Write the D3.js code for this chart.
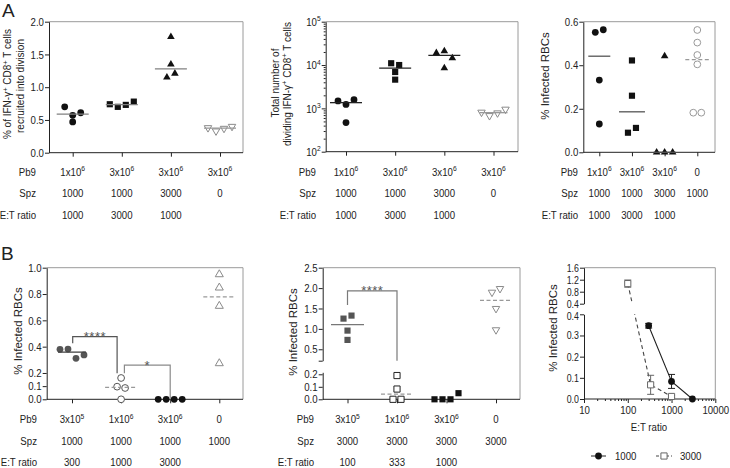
<!DOCTYPE html>
<html><head><meta charset="utf-8">
<script src="https://cdn.jsdelivr.net/npm/d3@7"></script>
<style>
body{margin:0;background:#fff;}
svg{display:block;background:#fff;}
text{font-family:"Liberation Sans",Arial,sans-serif;font-size:11.5px;fill:#222;}
text.title{font-size:11.5px;}
text.title.small{font-size:10px;}
text.letter{font-size:19px;}
text.star{font-size:13px;fill:#555;}
g.tight text{font-size:10.5px;}
</style></head><body>
<svg id="c" width="730" height="468"></svg>
<script>
// ---------------- DATA ----------------
const rowLabels = ["Pb9", "Spz", "E:T ratio"];
const pb9A12 = ["1x10^6", "3x10^6", "3x10^6", "3x10^6"];
const spzA12 = ["1000", "1000", "3000", "0"];
const etA12 = ["1000", "3000", "1000", ""];
const pb9A3 = ["1x10^6", "3x10^6", "3x10^6", "0"];
const spzA3 = ["1000", "1000", "3000", "1000"];
const etA3 = ["1000", "3000", "1000", ""];
const pb9B = ["3x10^5", "1x10^6", "3x10^6", "0"];
const spzB1 = ["1000", "1000", "1000", "1000"];
const etB1 = ["300", "1000", "3000", ""];
const spzB2 = ["3000", "3000", "3000", "3000"];
const etB2 = ["100", "333", "1000", ""];

// Panel A1: % of IFN-g+ CD8+ T cells recruited into division
const a1Circle = [0.70, 0.47, 0.57, 0.61];
const a1Square = [0.74, 0.70, 0.73, 0.78];
const a1Triangle = [1.15, 1.77, 1.35, 1.21];
const a1DownTri = [0.38, 0.33, 0.37, 0.40];
const a1Ticks = [0, 0.5, 1.0, 1.5, 2.0];

// Panel A2: total number of dividing IFN-g+ CD8+ T cells
const a2Circle = [1480, 1230, 1590, 470];
const a2Square = [11000, 10000, 6900, 4600];
const a2Triangle = [19000, 21000, 14500, 8500];
const a2DownTri = [811, 676, 781, 951];
const a2Ticks = [1e2, 1e3, 1e4, 1e5];

// Panel A3: % infected RBCs
const a3Circle = [0.551, 0.563, 0.332, 0.130];
const a3Square = [0.422, 0.260, 0.090, 0.112];
const a3Triangle = [0.442, 0, 0, 0];
const a3OpenCircle = [0.562, 0.504, 0.447, 0.404, 0.182, 0.182];
const a3Ticks = [0, 0.2, 0.4, 0.6];

// Panel B1: % infected RBCs (Spz 1000)
const b1Dark = [0.380, 0.382, 0.311, 0.337];
const b1Open = [0.162, 0.096, 0.086, 0];
const b1Black = [0, 0, 0, 0];
const b1Triangle = [0.949, 0.848, 0.709, 0.273];
const b1Ticks = [0, 0.1, 0.2, 0.4, 0.6, 0.8, 1.0];
const b1Brackets = [{from: 0, to: 1, left: 0.425, top: 0.476, right: 0.198, label: "****"},
                    {from: 1, to: 2, left: 0.198, top: 0.26, right: 0, label: "*"}];

// Panel B2: % infected RBCs (Spz 3000), broken axis
const b2Dark = [1.252, 1.326, 0.958, 0.730];
const b2Open = [0.190, 0.082, 0, 0];
const b2Black = [0, 0, 0, 0.049];
const b2DownTri = [1.896, 1.986, 1.497, 0.975];
const b2LowTicks = [0, 0.1, 0.2];
const b2HighTicks = [0.5, 1.0, 1.5, 2.0, 2.5];
const b2Brackets = [{from: 0, to: 1, left: 1.585, top: 1.93, right: 0.22, label: "****"}];

// Panel B3: % infected RBCs vs E:T ratio
const b3Ratio1000 = [300, 1000, 3000];
const b3Mean1000 = [0.346, 0.083, 0];
const b3Err1000 = [0.011, 0.033, 0];
const b3Ratio3000 = [100, 333, 1000];
const b3Mean3000 = [1.07, 0.067, 0.012];
const b3Err3000 = [0.12, 0.045, 0.005];
const b3LowTicks = [0, 0.1, 0.2, 0.3, 0.4];
const b3HighTicks = [0.4, 0.8, 1.2, 1.6];
const b3XTicks = [10, 100, 1000, 10000];
const b3Legend = ["1000", "3000"];

// ---------------- HELPERS ----------------
const svg = d3.select("#c");
const AX = "#222", FRAME = "#9a9a9a", SX = 0.84;

function nt(x, y, anchor) {
  return svg.append("text").attr("transform", `translate(${x},${y}) scale(${SX},1)`)
    .attr("text-anchor", anchor || "start");
}
function supText(sel, str) {
  const m = str.split("^");
  sel.text(null);
  sel.append("tspan").text(m[0]);
  if (m.length > 1) sel.append("tspan").attr("dy", -4.5).attr("font-size", "8px").text(m[1]);
}
function richTitle(x, y, parts, small) {
  const t = svg.append("text").attr("class", "title" + (small ? " small" : "")).attr("text-anchor", "middle")
    .attr("transform", `translate(${x},${y}) rotate(-90)`);
  let shifted = false;
  parts.forEach(([s, sup]) => {
    const ts = t.append("tspan").text(s);
    if (sup && !shifted) { ts.attr("dy", -3.5).attr("font-size", "7.5px"); shifted = true; }
    else if (!sup && shifted) { ts.attr("dy", 3.5); shifted = false; }
  });
}
function frame(p) {
  svg.append("line").attr("x1", p.l).attr("x2", p.r).attr("y1", p.t).attr("y2", p.t).attr("stroke", FRAME);
  svg.append("line").attr("x1", p.r).attr("x2", p.r).attr("y1", p.t).attr("y2", p.b).attr("stroke", FRAME);
  svg.append("line").attr("x1", p.l).attr("x2", p.r).attr("y1", p.b).attr("y2", p.b).attr("stroke", AX);
}
function squeeze(g, dy) {
  g.attr("font-family", null).attr("font-size", null);
  g.selectAll(".tick text").attr("transform", `translate(0,${dy || 0}) scale(${SX},1)`);
  return g;
}
function yAxis(p, scale, ticks, fmt, dy) {
  const g = svg.append("g").attr("transform", `translate(${p.l},0)`).style("color", AX)
    .call(d3.axisLeft(scale).tickValues(ticks).tickSize(4).tickSizeOuter(0).tickPadding(2).tickFormat(fmt));
  return squeeze(g, dy);
}
function xCatAxis(p, xs) {
  const g = svg.append("g").attr("transform", `translate(0,${p.b})`).style("color", AX)
    .call(d3.axisBottom(xs).tickSize(4).tickSizeOuter(0).tickFormat(""));
  g.select(".domain").remove();
}
function table(rows, labelRight, xs, baseY) {
  rows.forEach((row, ri) => {
    const y = baseY + ri * 21.5;
    nt(labelRight, y, "end").text(rowLabels[ri]);
    row.forEach((t, ci) => {
      if (!t) return;
      supText(nt(xs(ci), y, "middle"), t);
    });
  });
}
const SYM = {
  circle: d3.symbol(d3.symbolCircle, 36)(),
  square: d3.symbol(d3.symbolSquare, 38)(),
  triangle: d3.symbol(d3.symbolTriangle, 25)(),
  down: d3.symbol(d3.symbolTriangle, 24)(),
  opentri: d3.symbol(d3.symbolTriangle, 28)()
};
function dodge(values, yf, thr, step) {
  const pts = values.map((v, i) => ({v, i, py: yf(v)}));
  const sorted = pts.slice().sort((a, b) => a.py - b.py);
  const clusters = [];
  sorted.forEach(p => {
    const c = clusters[clusters.length - 1];
    if (c && p.py - c[c.length - 1].py < thr) c.push(p); else clusters.push([p]);
  });
  clusters.forEach(c => {
    c.sort((a, b) => a.i - b.i);
    c.forEach((p, k) => p.dx = (k - (c.length - 1) / 2) * step);
  });
  return pts;
}
function groupMarks(xs, yf, ci, values, st) {
  const pts = dodge(values, yf, 6.2, 8);
  svg.append("g").selectAll("path").data(pts).join("path")
    .attr("d", SYM[st.shape])
    .attr("transform", d => `translate(${xs(ci) + d.dx},${yf(d.v)})` + (st.shape === "down" ? " rotate(180)" : ""))
    .attr("fill", st.fill).attr("stroke", st.stroke || "none").attr("stroke-width", 1);
  if (st.med) {
    const m = d3.median(values);
    svg.append("line").attr("x1", xs(ci) - st.med.half).attr("x2", xs(ci) + st.med.half)
      .attr("y1", yf(m)).attr("y2", yf(m)).attr("stroke", st.med.color).attr("stroke-width", 1.3)
      .attr("stroke-dasharray", st.med.dash ? "4,2.5" : null);
  }
}
function bracket(xs, yf, b, color, dxL, dxR) {
  const x1 = xs(b.from) + dxL, x2 = xs(b.to) + dxR, yt = yf(b.top);
  svg.append("path").attr("d", `M${x1},${yf(b.left)}V${yt}H${x2}V${yf(b.right)}`)
    .attr("fill", "none").attr("stroke", color).attr("stroke-width", 1.2);
  svg.append("text").attr("class", "star").attr("x", (x1 + x2) / 2).attr("y", yt + 4.5)
    .attr("text-anchor", "middle").attr("letter-spacing", 0.5).text(b.label);
}

// ---------------- PANEL LETTERS ----------------
svg.append("text").attr("class", "letter").attr("x", 2).attr("y", 17).text("A");
svg.append("text").attr("class", "letter").attr("x", 1).attr("y", 260).text("B");

// ---------------- A1 ----------------
{
  const p = {l: 49, r: 243, t: 21.7, b: 152.7};
  const xs = d3.scalePoint(d3.range(4), [72.7, 220]);
  const y = d3.scaleLinear([0, 2], [p.b, p.t]);
  frame(p); yAxis(p, y, a1Ticks, d3.format(".1f")); xCatAxis(p, xs);
  const med = {color: "#808080", half: 16};
  groupMarks(xs, y, 0, a1Circle, {shape: "circle", fill: "#111", med});
  groupMarks(xs, y, 1, a1Square, {shape: "square", fill: "#111", med});
  groupMarks(xs, y, 2, a1Triangle, {shape: "triangle", fill: "#111", med});
  groupMarks(xs, y, 3, a1DownTri, {shape: "down", fill: "#fff", stroke: "#8a8a8a", med: {color: "#999", half: 16}});
  richTitle(11, 84, [["% of IFN-γ", 0], ["+", 1], [" CD8", 0], ["+", 1], [" T cells", 0]], true);
  richTitle(23.5, 86, [["recruited into division", 0]], true);
  table([pb9A12, spzA12, etA12], 36, xs, 175.5);
}

// ---------------- A2 ----------------
{
  const p = {l: 325.7, r: 518, t: 21.7, b: 151.7};
  const xs = d3.scalePoint(d3.range(4), [346, 493.5]);
  const y = d3.scaleLog([1e2, 1e5], [p.b, p.t]);
  frame(p);
  const g = yAxis(p, y, a2Ticks, d => String(d));
  g.selectAll(".tick text").each(function(d) {
    const t = d3.select(this); t.text(null);
    t.append("tspan").text("10");
    t.append("tspan").attr("dy", -4.5).attr("font-size", "8px").text(Math.round(Math.log10(d)));
  });
  const minors = [];
  [100, 1000, 10000].forEach(dec => { for (let k = 2; k <= 9; k++) minors.push(dec * k); });
  svg.append("g").attr("transform", `translate(${p.l},0)`).style("color", AX)
    .call(d3.axisLeft(y).tickValues(minors).tickSize(2).tickFormat("").tickSizeOuter(0))
    .select(".domain").remove();
  xCatAxis(p, xs);
  const med = {color: "#222", half: 16};
  groupMarks(xs, y, 0, a2Circle, {shape: "circle", fill: "#111", med});
  groupMarks(xs, y, 1, a2Square, {shape: "square", fill: "#111", med});
  groupMarks(xs, y, 2, a2Triangle, {shape: "triangle", fill: "#111", med});
  groupMarks(xs, y, 3, a2DownTri, {shape: "down", fill: "#fff", stroke: "#8a8a8a", med: {color: "#999", half: 14}});
  richTitle(278.5, 83, [["Total number of", 0]], true);
  richTitle(290.5, 84, [["dividing IFN-γ", 0], ["+", 1], [" CD8", 0], ["+", 1], [" T cells", 0]], true);
  table([pb9A12, spzA12, etA12], 316, xs, 175.5);
}

// ---------------- A3 ----------------
{
  const p = {l: 583.3, r: 715, t: 21.7, b: 152.3};
  const xs = d3.scalePoint(d3.range(4), [599.3, 697.3]);
  const y = d3.scaleLinear([0, 0.6], [p.b, p.t]);
  frame(p); yAxis(p, y, a3Ticks, d3.format(".1f")); xCatAxis(p, xs);
  const med = {color: "#555", half: 11};
  groupMarks(xs, y, 0, a3Circle, {shape: "circle", fill: "#111", med});
  groupMarks(xs, y, 1, a3Square, {shape: "square", fill: "#111", med: {color: "#555", half: 13}});
  groupMarks(xs, y, 2, a3Triangle, {shape: "triangle", fill: "#111", med});
  groupMarks(xs, y, 3, a3OpenCircle, {shape: "circle", fill: "#fff", stroke: "#999", med: {color: "#999", dash: true, half: 12}});
  richTitle(549, 76, [["% Infected RBCs", 0]]);
  table([pb9A3, spzA3, etA3], 578, xs, 175.5);
}

// ---------------- B1 ----------------
{
  const p = {l: 46.7, r: 243, t: 267.7, b: 399.3};
  const xs = d3.scalePoint(d3.range(4), [72, 219.3]);
  const y = d3.scaleLinear([0, 1], [p.b, p.t]);
  frame(p); yAxis(p, y, b1Ticks, d3.format(".1f")); xCatAxis(p, xs);
  groupMarks(xs, y, 0, b1Dark, {shape: "circle", fill: "#555", med: {color: "#444", half: 14}});
  groupMarks(xs, y, 1, b1Open, {shape: "circle", fill: "#fff", stroke: "#555", med: {color: "#999", dash: true, half: 16}});
  groupMarks(xs, y, 2, b1Black, {shape: "circle", fill: "#111"});
  groupMarks(xs, y, 3, b1Triangle, {shape: "opentri", fill: "#fff", stroke: "#8a8a8a", med: {color: "#999", dash: true, half: 16}});
  bracket(xs, y, b1Brackets[0], "#555", 0.7, -4);
  bracket(xs, y, b1Brackets[1], "#8a8a8a", 3.3, 0);
  richTitle(22, 331, [["% Infected RBCs", 0]]);
  table([pb9B, spzB1, etB1], 37, xs, 423);
}

// ---------------- B2 ----------------
{
  const p = {l: 322.7, r: 520, t: 267.7, b: 399.3};
  const xs = d3.scalePoint(d3.range(4), [347.5, 496]);
  const yLow = d3.scaleLinear([0, 0.216], [p.b, 372.3]);
  const yHigh = d3.scaleLinear([0.22, 2.5], [360.7, p.t]);
  const y = v => v <= 0.218 ? yLow(v) : yHigh(v);
  frame(p);
  yAxis(p, yLow, b2LowTicks, d3.format(".1f"));
  yAxis(p, yHigh, b2HighTicks, d3.format(".1f"));
  svg.append("g").attr("transform", `translate(${p.l},0)`).style("color", AX)
    .call(d3.axisLeft(yHigh).tickValues([0.22]).tickSize(4).tickFormat("").tickSizeOuter(0))
    .select(".domain").remove();
  xCatAxis(p, xs);
  groupMarks(xs, y, 0, b2Dark, {shape: "square", fill: "#555", med: {color: "#777", half: 16.5}});
  groupMarks(xs, y, 1, b2Open, {shape: "square", fill: "#fff", stroke: "#222", med: {color: "#999", dash: true, half: 16}});
  groupMarks(xs, y, 2, b2Black, {shape: "square", fill: "#111"});
  groupMarks(xs, y, 3, b2DownTri, {shape: "down", fill: "#fff", stroke: "#8a8a8a", med: {color: "#999", dash: true, half: 16}});
  bracket(xs, y, b2Brackets[0], "#7a7a7a", 0, 0);
  richTitle(297, 332, [["% Infected RBCs", 0]]);
  table([pb9B, spzB2, etB2], 314, xs, 423);
}

// ---------------- B3 ----------------
{
  const p = {l: 584, r: 715.3, t: 267.7, b: 399};
  const x = d3.scaleLog([10, 1e4], [p.l, p.r]);
  const yLow = d3.scaleLinear([0, 0.4], [p.b, 314.3]);
  const yHigh = d3.scaleLinear([0.4, 1.6], [303.7, p.t]);
  const y = v => v <= 0.4 ? yLow(v) : yHigh(v);
  frame(p);
  const gl = yAxis(p, yLow, b3LowTicks, d3.format(".1f")).attr("class", "tight");
  gl.selectAll(".tick text").filter(d => d === 0.4).attr("transform", `translate(0,1.4) scale(${SX},1)`);
  yAxis(p, yHigh, b3HighTicks, d3.format(".1f")).attr("class", "tight");
  const gx = svg.append("g").attr("transform", `translate(0,${p.b})`).style("color", AX)
    .call(d3.axisBottom(x).tickValues(b3XTicks).tickSize(4).tickSizeOuter(0).tickPadding(3).tickFormat(d3.format("d")));
  squeeze(gx);
  gx.select(".domain").remove();
  const minors = [];
  [10, 100, 1000].forEach(dec => { for (let k = 2; k <= 9; k++) minors.push(dec * k); });
  svg.append("g").attr("transform", `translate(0,${p.b})`).style("color", AX)
    .call(d3.axisBottom(x).tickValues(minors).tickSize(2).tickFormat("").tickSizeOuter(0))
    .select(".domain").remove();
  nt(649, 431, "middle").text("E:T ratio");
  richTitle(557, 328, [["% Infected RBCs", 0]]);

  const defs = svg.append("defs");
  const cp = defs.append("clipPath").attr("id", "gapclip");
  cp.append("rect").attr("x", p.l).attr("y", p.t - 10).attr("width", p.r - p.l + 10).attr("height", 303.7 - p.t + 10);
  cp.append("rect").attr("x", p.l).attr("y", 314.3).attr("width", p.r - p.l + 10).attr("height", 100);

  const s1 = b3Ratio1000.map((r, i) => ({r, v: b3Mean1000[i], e: b3Err1000[i]}));
  const s2 = b3Ratio3000.map((r, i) => ({r, v: b3Mean3000[i], e: b3Err3000[i]}));
  const line = d3.line().x(d => x(d.r)).y(d => y(d.v));
  svg.append("path").attr("d", line(s2)).attr("fill", "none").attr("stroke", "#444")
    .attr("stroke-dasharray", "4,3").attr("stroke-width", 1.1).attr("clip-path", "url(#gapclip)");
  svg.append("path").attr("d", line(s1)).attr("fill", "none").attr("stroke", "#222")
    .attr("stroke-width", 1.1).attr("clip-path", "url(#gapclip)");
  function errs(data, color) {
    data.filter(d => d.e > 0.003).forEach(d => {
      const cx = x(d.r), y1 = y(d.v + d.e), y2 = y(Math.max(0, d.v - d.e));
      svg.append("path").attr("d", `M${cx},${y1}V${y2}M${cx - 3.5},${y1}H${cx + 3.5}M${cx - 3.5},${y2}H${cx + 3.5}`)
        .attr("stroke", color).attr("stroke-width", 1).attr("fill", "none");
    });
  }
  errs(s2, "#666"); errs(s1, "#222");
  svg.append("g").selectAll("path").data(s2).join("path").attr("d", SYM.square)
    .attr("transform", d => `translate(${x(d.r)},${y(d.v)})`).attr("fill", "#fff").attr("stroke", "#666");
  svg.append("g").selectAll("path").data(s1).join("path").attr("d", SYM.circle)
    .attr("transform", d => `translate(${x(d.r)},${y(d.v)})`).attr("fill", "#111");

  // legend
  const ly = 456;
  svg.append("line").attr("x1", 591).attr("x2", 606).attr("y1", ly).attr("y2", ly).attr("stroke", "#222");
  svg.append("path").attr("d", SYM.circle).attr("transform", `translate(598.5,${ly})`).attr("fill", "#111");
  nt(615, ly + 4).text(b3Legend[0]);
  svg.append("line").attr("x1", 656).attr("x2", 672).attr("y1", ly).attr("y2", ly).attr("stroke", "#444").attr("stroke-dasharray", "3,2");
  svg.append("path").attr("d", SYM.square).attr("transform", `translate(664,${ly})`).attr("fill", "#fff").attr("stroke", "#666");
  nt(680, ly + 4).text(b3Legend[1]);
}
</script>
</body></html>
